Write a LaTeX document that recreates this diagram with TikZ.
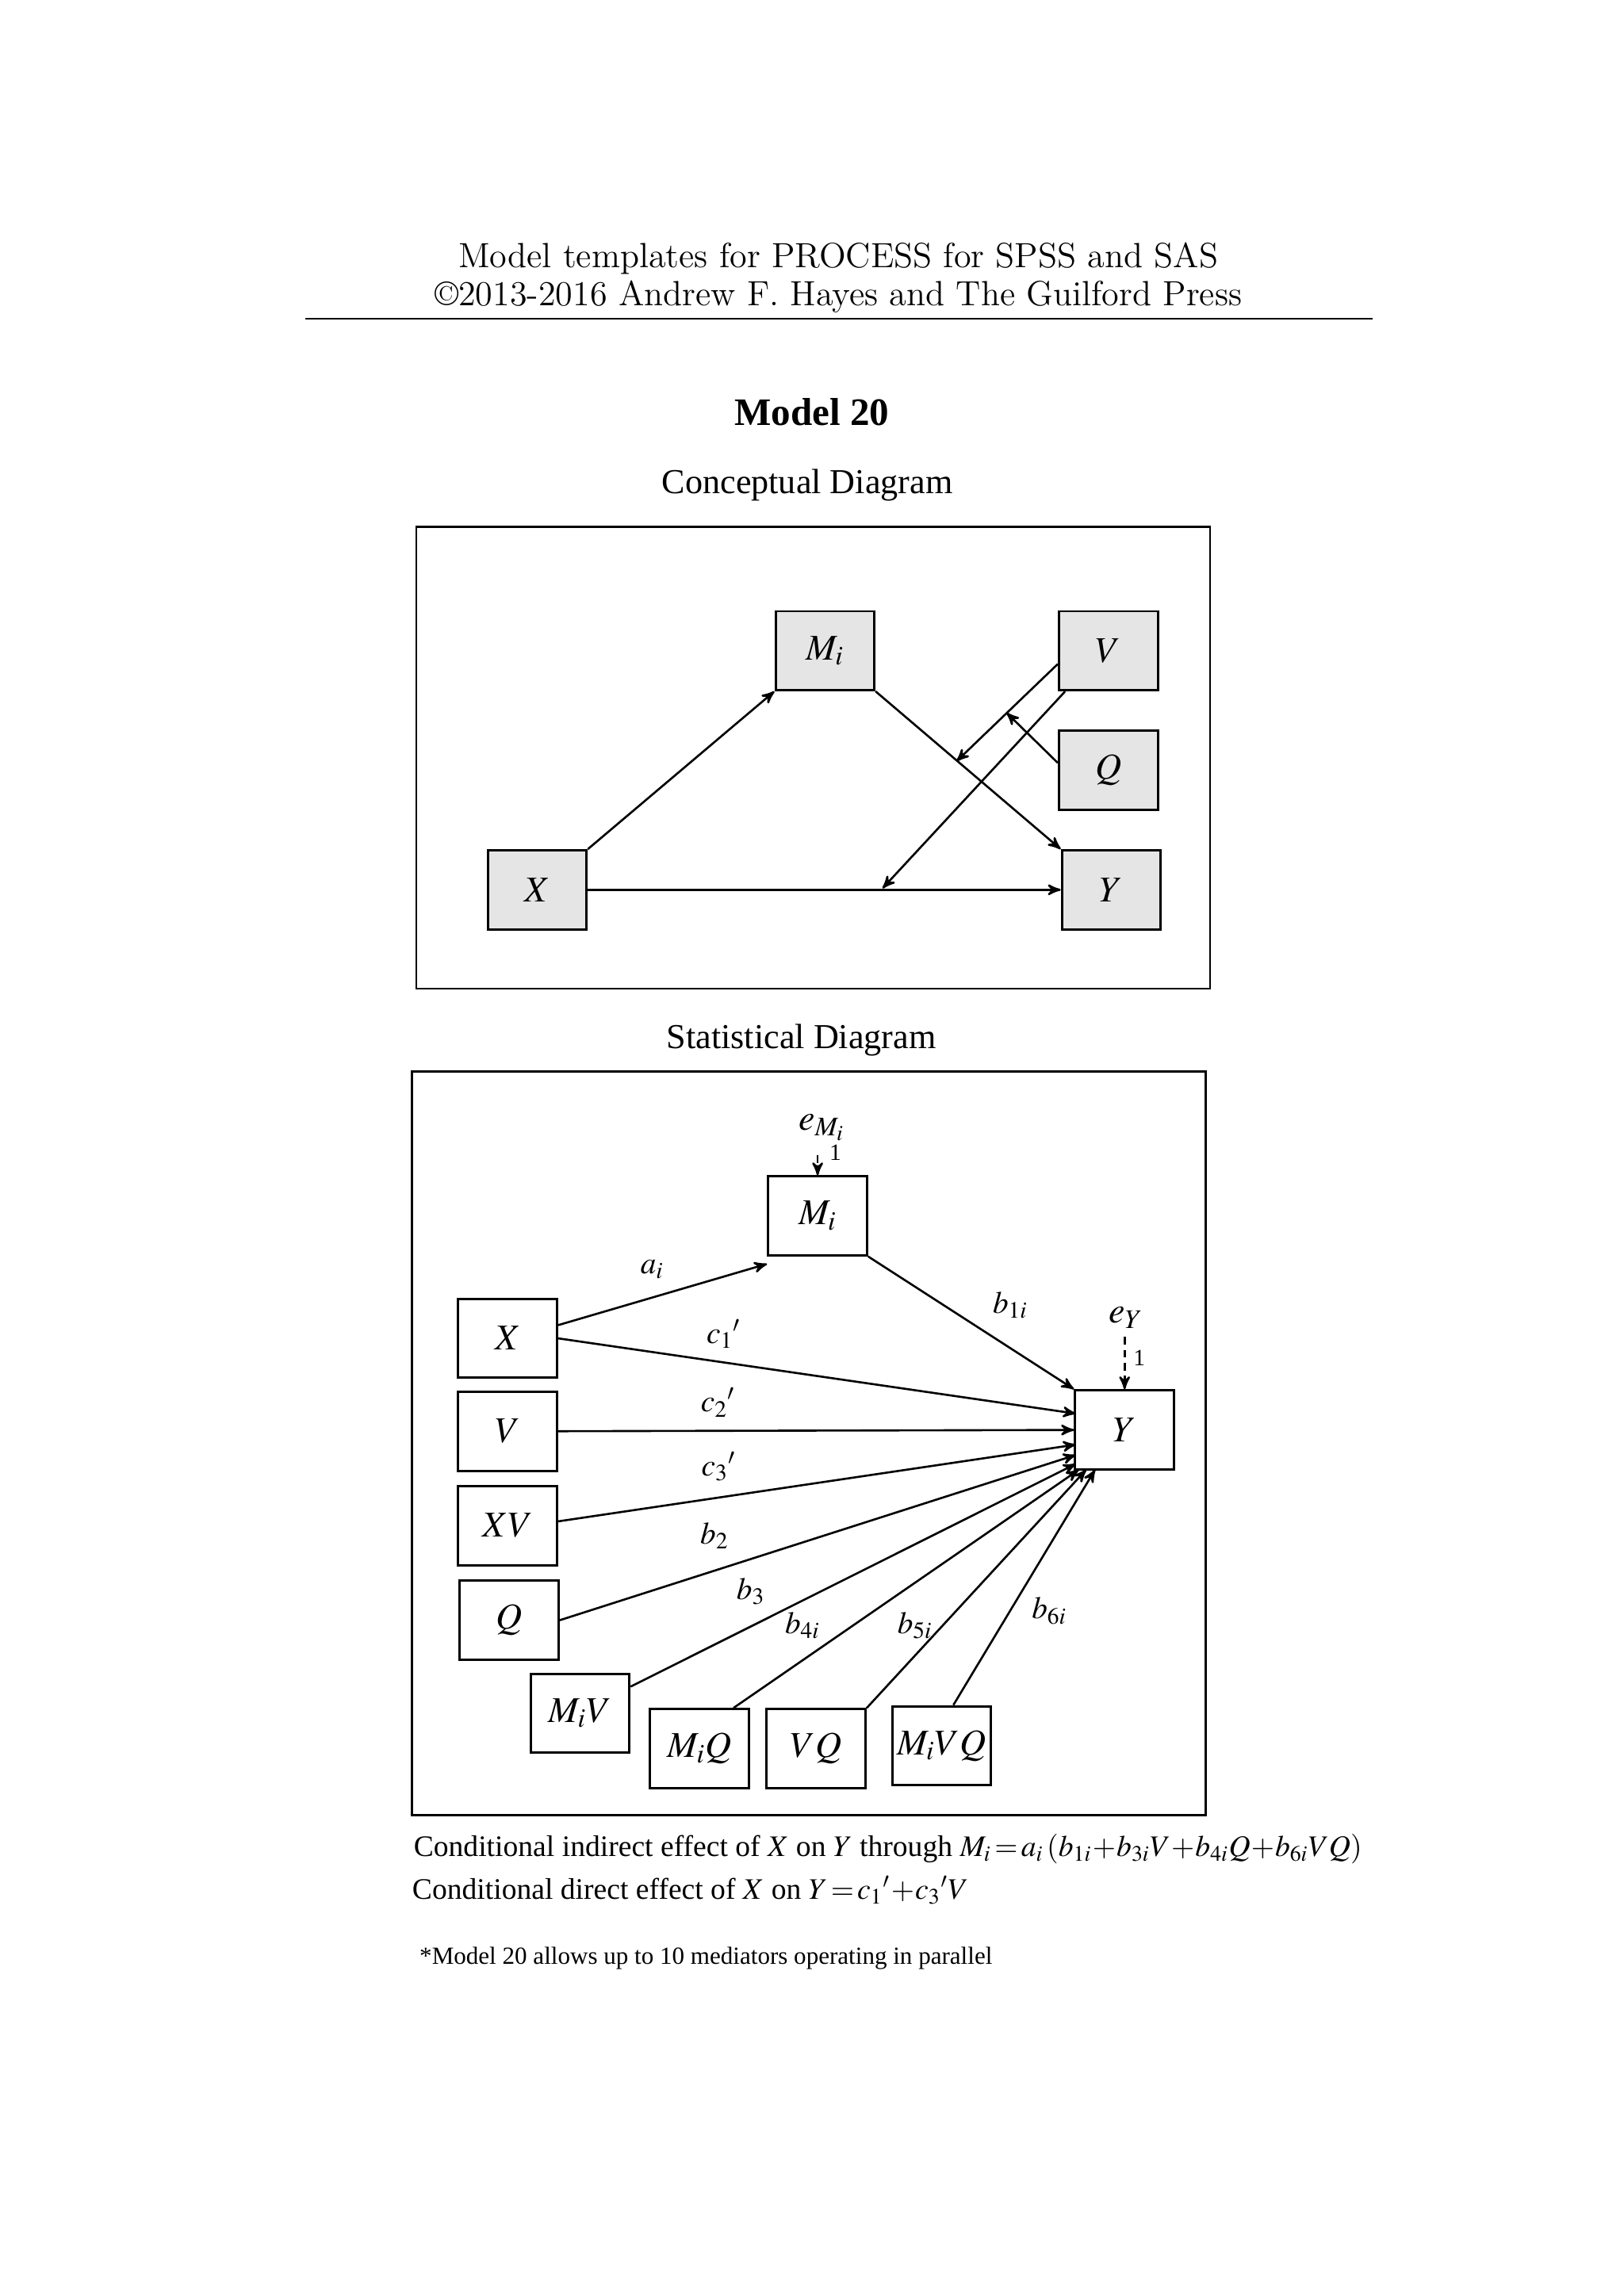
\documentclass[tikz,border=0pt]{standalone}
\usepackage{mathptmx}
\usepackage{fontspec}
\setmainfont{Liberation Serif}
\newfontfamily\lmr{Latin Modern Roman}
\usepackage{tikz}
\usetikzlibrary{arrows}
\tikzstyle{Var}=[minimum width=1.34cm, minimum height=1.07cm, line width=0.9pt, draw=black, shape=rectangle, inner sep=0pt, font=\fontsize{14}{16}\selectfont]
\tikzstyle{Shaded}=[Var, fill=black!10]
\tikzstyle{arrow}=[line width=0.8pt, ->, >=stealth']
\tikzstyle{error}=[line width=0.8pt, ->, >=stealth', dashed, dash pattern=on 3pt off 2pt]
\tikzstyle{coef}=[font=\fontsize{12}{14}\selectfont, inner sep=0pt]
\begin{document}
\begin{tikzpicture}[x=0.02cm, y=-0.02cm]
	\useasboundingbox (0,0) rectangle (1100,1556);
	% header
	\node [font=\lmr\fontsize{13.5}{15}\selectfont] (head1) at (568,175) {Model templates for PROCESS for SPSS and SAS};
	\node [font=\lmr\fontsize{13.5}{15}\selectfont] (head2) at (568,201) {\textcopyright2013-2016 Andrew F. Hayes and The Guilford Press};
	\draw [line width=0.5pt] (207,216) -- (930,216);
	\node [font=\bfseries\fontsize{15}{17}\selectfont] (title) at (550,279) {Model 20};

	% conceptual diagram
	\node [font=\fontsize{13.5}{15}\selectfont] (ctitle) at (547,329) {Conceptual Diagram};
	\draw [line width=0.8pt] (282,357) rectangle (820,670);
	\node [style=Shaded] (cM) at (559,441) {$M_i$};
	\node [style=Shaded] (cV) at (751,441) {$V$};
	\node [style=Shaded] (cQ) at (751,522) {$Q$};
	\node [style=Shaded] (cX) at (364,603) {$X$};
	\node [style=Shaded] (cY) at (753,603) {$Y$};
	\coordinate (mid1) at (648,516);
	\coordinate (mid2) at (598,602);
	\coordinate (mid3) at (682,483);
	\draw [style=arrow] (cX.north east) to (cM.south west);
	\draw [style=arrow] (cM.south east) to (cY.north west);
	\draw [style=arrow] (cX) to (cY);
	\draw [style=arrow] ([yshift=-0.18cm]cV.west) to (mid1);
	\draw [style=arrow] ([xshift=0.1cm]cV.south west) to (mid2);
	\draw [style=arrow] ([yshift=0.1cm]cQ.west) to (mid3);

	% statistical diagram
	\node [font=\fontsize{13.5}{15}\selectfont] (stitle) at (543,705) {Statistical Diagram};
	\draw [line width=0.8pt] (279,726) rectangle (817,1230);
	\node [style=Var] (M) at (554,824) {$M_i$};
	\node [style=Var] (X) at (344,907) {$X$};
	\node [style=Var] (V) at (344,970) {$V$};
	\node [style=Var] (XV) at (344,1034) {$XV$};
	\node [style=Var] (Q) at (345,1098) {$Q$};
	\node [style=Var] (MV) at (393,1161) {$M_iV$};
	\node [style=Var] (MQ) at (474,1185) {$M_iQ$};
	\node [style=Var] (VQ) at (553,1185) {$VQ$};
	\node [style=Var] (MVQ) at (638,1183) {$M_iVQ$};
	\node [style=Var] (Y) at (762,969) {$Y$};
	\node [font=\fontsize{14}{16}\selectfont, inner sep=1pt] (eM) at (557,764) {$e_{M_i}$};
	\node [font=\fontsize{14}{16}\selectfont, inner sep=1pt] (eY) at (763,893) {$e_Y$};
	\coordinate (eMs) at (554,783);
	\coordinate (eYs) at (762,906);
	\draw [style=error] (eMs) to (M.north);
	\draw [style=error] (eYs) to (Y.north);
	\node [font=\fontsize{9}{10}\selectfont] (oneM) at (566,781) {1};
	\node [font=\fontsize{9}{10}\selectfont] (oneY) at (772,920) {1};

	\coordinate (inX) at (729,958);
	\coordinate (inXV) at (729,979);
	\coordinate (inQ) at (729,986);
	\coordinate (inMV) at (729,992);
	\coordinate (inMQ) at (731,996);
	\coordinate (inVQ) at (736,996);
	\coordinate (inMVQ) at (742,996);
	\draw [style=arrow] ([yshift=0.18cm]X.east) to node[coef, pos=0.45, above=7pt] {$a_i$} ([yshift=-0.1cm]M.south west);
	\draw [style=arrow] (M.south east) to node[coef, pos=0.55, above right=4pt] {$b_{1i}$} (Y.north west);
	\draw [style=arrow] (X.east) to node[coef, pos=0.32, above=5pt] {$c_1{}'$} (inX);
	\draw [style=arrow] (V) to node[coef, pos=0.31, above=5pt] {$c_2{}'$} (Y);
	\draw [style=arrow] ([yshift=0.06cm]XV.east) to node[coef, pos=0.31, above=6pt] {$c_3{}'$} (inXV);
	\draw [style=arrow] (Q.east) to node[coef, pos=0.30, above=8pt] {$b_2$} (inQ);
	\draw [style=arrow] ([yshift=0.36cm]MV.east) to node[coef, pos=0.27, above=8pt] {$b_3$} (inMV);
	\draw [style=arrow] ([xshift=0.46cm]MQ.north) to node[coef, pos=0.2, above=8pt] {$b_{4i}$} (inMQ);
	\draw [style=arrow] (VQ.north east) to node[coef, pos=0.22, above=6pt] {$b_{5i}$} (inVQ);
	\draw [style=arrow] ([xshift=0.16cm]MVQ.north) to node[coef, pos=0.4, right=8pt] {$b_{6i}$} (inMVQ);

	% effects
	\node [anchor=west, font=\fontsize{11.5}{13}\selectfont, inner sep=0pt] (eff1) at (280,1253) {Conditional indirect effect of $X$ on $Y$ through $M_i\!=\!a_i\,(b_{1i}\!+\!b_{3i}V\!+\!b_{4i}Q\!+\!b_{6i}VQ)$};
	\node [anchor=west, font=\fontsize{11.5}{13}\selectfont, inner sep=0pt] (eff2) at (279,1281) {Conditional direct effect of $X$ on $Y\!=\!c_1{}'\!+\!c_3{}'V$};
	\node [anchor=west, font=\fontsize{9.5}{11}\selectfont, inner sep=0pt] (note) at (284,1327) {*Model 20 allows up to 10 mediators operating in parallel};
\end{tikzpicture}
\end{document}
